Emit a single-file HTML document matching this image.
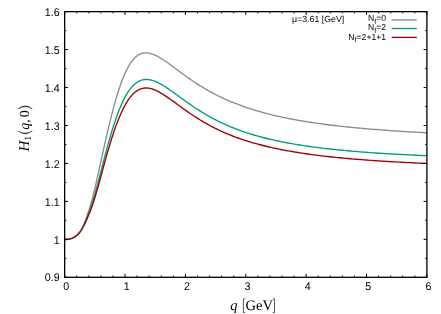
<!DOCTYPE html>
<html><head><meta charset="utf-8"><title>H1(q,0)</title>
<style>
html,body{margin:0;padding:0;background:#fff;}
svg{display:block;will-change:transform;}
text{font-family:"Liberation Sans",sans-serif;fill:#000;text-rendering:geometricPrecision;}
.tl text{font-size:11.2px;}
.lg text{font-size:8.6px;}
.ser text{font-family:"Liberation Serif",serif;}
</style></head>
<body>
<svg width="441" height="314" viewBox="0 0 441 314">
<rect x="0" y="0" width="441" height="314" fill="#ffffff"/>
<g fill="none" stroke-width="1.35" stroke-linejoin="round" stroke-linecap="butt" transform="translate(0,0.35)">
<path d="M64.50,239.19 L65.22,239.17 L65.97,239.14 L66.72,239.09 L67.47,239.01 L68.21,238.91 L68.96,238.78 L69.71,238.63 L70.46,238.44 L71.21,238.23 L71.95,237.97 L72.70,237.68 L73.45,237.35 L74.19,236.97 L74.94,236.54 L75.68,236.05 L76.42,235.49 L77.15,234.86 L77.89,234.15 L78.62,233.36 L79.34,232.48 L80.06,231.49 L80.78,230.40 L81.48,229.19 L82.18,227.86 L82.87,226.41 L83.57,224.82 L84.26,223.11 L84.97,221.25 L85.70,219.26 L86.46,217.14 L87.26,214.88 L88.09,212.49 L88.94,209.98 L89.79,207.35 L90.62,204.61 L91.43,201.77 L92.22,198.84 L92.99,195.81 L93.75,192.72 L94.50,189.55 L95.25,186.33 L96.00,183.05 L96.75,179.74 L97.50,176.39 L98.25,173.02 L99.00,169.62 L99.75,166.22 L100.50,162.81 L101.25,159.40 L102.00,155.99 L102.75,152.60 L103.50,149.22 L104.25,145.86 L105.00,142.53 L105.75,139.22 L106.50,135.95 L107.25,132.72 L108.00,129.52 L108.75,126.36 L109.50,123.25 L110.25,120.19 L111.00,117.19 L111.75,114.23 L112.50,111.34 L113.25,108.50 L114.00,105.72 L114.75,103.01 L115.50,100.36 L116.25,97.78 L117.00,95.27 L117.75,92.83 L118.50,90.46 L119.25,88.17 L120.00,85.95 L120.75,83.81 L121.50,81.74 L122.25,79.74 L123.00,77.83 L123.75,75.99 L124.50,74.23 L125.25,72.54 L126.00,70.93 L126.75,69.40 L127.50,67.94 L128.25,66.56 L129.00,65.26 L129.75,64.02 L130.50,62.86 L131.25,61.77 L132.00,60.75 L132.75,59.79 L133.50,58.91 L134.25,58.09 L135.00,57.33 L135.75,56.64 L136.50,56.01 L137.25,55.43 L138.00,54.92 L138.75,54.45 L139.50,54.05 L140.25,53.69 L141.00,53.39 L141.75,53.13 L142.50,52.92 L143.25,52.76 L144.00,52.64 L144.75,52.56 L145.50,52.52 L146.25,52.52 L147.00,52.55 L147.75,52.62 L148.50,52.72 L149.25,52.86 L150.00,53.02 L150.75,53.21 L151.50,53.43 L152.25,53.68 L153.00,53.95 L153.75,54.24 L154.50,54.56 L155.25,54.89 L156.00,55.25 L156.75,55.62 L157.50,56.01 L158.25,56.42 L159.00,56.84 L159.75,57.27 L160.50,57.72 L161.25,58.18 L162.00,58.65 L162.75,59.13 L163.50,59.62 L164.25,60.12 L165.00,60.62 L165.75,61.14 L166.50,61.66 L167.25,62.18 L168.00,62.71 L168.75,63.25 L169.50,63.79 L170.25,64.33 L171.00,64.88 L171.75,65.43 L172.50,65.98 L173.25,66.54 L174.00,67.09 L174.75,67.65 L175.50,68.20 L176.25,68.76 L177.00,69.32 L177.75,69.88 L178.50,70.43 L179.25,70.99 L180.00,71.54 L180.75,72.09 L181.50,72.64 L182.25,73.19 L183.00,73.74 L183.75,74.28 L184.50,74.83 L185.25,75.37 L186.00,75.90 L186.75,76.44 L187.50,76.97 L188.25,77.50 L189.00,78.02 L189.75,78.54 L190.50,79.06 L191.25,79.58 L192.00,80.09 L192.75,80.60 L193.50,81.10 L194.25,81.60 L195.00,82.10 L195.75,82.59 L196.50,83.08 L197.25,83.57 L198.00,84.05 L198.75,84.52 L199.50,85.00 L200.25,85.47 L201.00,85.93 L201.75,86.39 L202.50,86.85 L203.25,87.30 L204.00,87.75 L204.75,88.20 L205.50,88.64 L206.25,89.08 L207.00,89.51 L207.75,89.94 L208.50,90.36 L209.25,90.78 L210.00,91.20 L210.75,91.61 L211.50,92.02 L212.25,92.42 L213.00,92.83 L213.75,93.22 L214.50,93.62 L215.25,94.00 L216.00,94.39 L216.75,94.77 L217.50,95.15 L218.25,95.52 L219.00,95.89 L219.75,96.26 L220.00,96.38 L222.00,97.34 L224.00,98.27 L226.00,99.17 L228.00,100.06 L230.00,100.91 L232.00,101.75 L234.00,102.56 L236.00,103.35 L238.00,104.12 L240.00,104.87 L242.00,105.60 L244.00,106.31 L246.00,107.00 L248.00,107.67 L250.00,108.33 L252.00,108.96 L254.00,109.58 L256.00,110.19 L258.00,110.78 L260.00,111.35 L262.00,111.91 L264.00,112.45 L266.00,112.98 L268.00,113.50 L270.00,114.01 L272.00,114.50 L274.00,114.98 L276.00,115.44 L278.00,115.90 L280.00,116.34 L282.00,116.78 L284.00,117.20 L286.00,117.61 L288.00,118.02 L290.00,118.41 L292.00,118.79 L294.00,119.17 L296.00,119.54 L298.00,119.89 L300.00,120.24 L302.00,120.58 L304.00,120.92 L306.00,121.24 L308.00,121.56 L310.00,121.87 L312.00,122.18 L314.00,122.48 L316.00,122.77 L318.00,123.05 L320.00,123.33 L322.00,123.60 L324.00,123.87 L326.00,124.13 L328.00,124.39 L330.00,124.64 L332.00,124.88 L334.00,125.12 L336.00,125.36 L338.00,125.59 L340.00,125.81 L342.00,126.04 L344.00,126.25 L346.00,126.46 L348.00,126.67 L350.00,126.88 L352.00,127.08 L354.00,127.27 L356.00,127.46 L358.00,127.65 L360.00,127.84 L362.00,128.02 L364.00,128.19 L366.00,128.37 L368.00,128.54 L370.00,128.71 L372.00,128.87 L374.00,129.03 L376.00,129.19 L378.00,129.35 L380.00,129.50 L382.00,129.65 L384.00,129.80 L386.00,129.94 L388.00,130.09 L390.00,130.23 L392.00,130.36 L394.00,130.50 L396.00,130.63 L398.00,130.76 L400.00,130.89 L402.00,131.02 L404.00,131.14 L406.00,131.26 L408.00,131.38 L410.00,131.50 L412.00,131.61 L414.00,131.73 L416.00,131.84 L418.00,131.95 L420.00,132.06 L422.00,132.16 L424.00,132.27 L426.00,132.37 L427.00,132.42" stroke="#8c8c8c"/>
<path d="M64.50,239.19 L65.22,239.18 L65.97,239.15 L66.72,239.10 L67.47,239.03 L68.22,238.93 L68.96,238.82 L69.71,238.67 L70.46,238.49 L71.21,238.28 L71.96,238.02 L72.70,237.73 L73.45,237.39 L74.19,236.99 L74.94,236.54 L75.68,236.03 L76.42,235.45 L77.15,234.80 L77.89,234.08 L78.62,233.28 L79.34,232.39 L80.06,231.42 L80.78,230.35 L81.48,229.20 L82.18,227.95 L82.88,226.60 L83.58,225.15 L84.28,223.60 L84.98,221.96 L85.71,220.21 L86.45,218.37 L87.22,216.43 L88.03,214.40 L88.85,212.28 L89.68,210.07 L90.52,207.78 L91.35,205.41 L92.16,202.96 L92.95,200.45 L93.73,197.87 L94.49,195.23 L95.25,192.54 L96.00,189.80 L96.75,187.03 L97.50,184.21 L98.25,181.37 L99.00,178.50 L99.75,175.62 L100.50,172.73 L101.25,169.83 L102.00,166.93 L102.75,164.03 L103.50,161.15 L104.25,158.28 L105.00,155.43 L105.75,152.61 L106.50,149.81 L107.25,147.05 L108.00,144.32 L108.75,141.63 L109.50,138.98 L110.25,136.38 L111.00,133.82 L111.75,131.32 L112.50,128.86 L113.25,126.47 L114.00,124.12 L114.75,121.84 L115.50,119.61 L116.25,117.45 L117.00,115.35 L117.75,113.30 L118.50,111.32 L119.25,109.41 L120.00,107.55 L120.75,105.77 L121.50,104.04 L122.25,102.38 L123.00,100.78 L123.75,99.25 L124.50,97.78 L125.25,96.37 L126.00,95.03 L126.75,93.74 L127.50,92.52 L128.25,91.36 L129.00,90.26 L129.75,89.22 L130.50,88.24 L131.25,87.31 L132.00,86.44 L132.75,85.63 L133.50,84.87 L134.25,84.16 L135.00,83.51 L135.75,82.90 L136.50,82.35 L137.25,81.84 L138.00,81.38 L138.75,80.97 L139.50,80.60 L140.25,80.28 L141.00,80.00 L141.75,79.76 L142.50,79.56 L143.25,79.39 L144.00,79.27 L144.75,79.18 L145.50,79.13 L146.25,79.11 L147.00,79.12 L147.75,79.17 L148.50,79.24 L149.25,79.34 L150.00,79.47 L150.75,79.63 L151.50,79.81 L152.25,80.02 L153.00,80.25 L153.75,80.50 L154.50,80.78 L155.25,81.07 L156.00,81.38 L156.75,81.71 L157.50,82.06 L158.25,82.43 L159.00,82.81 L159.75,83.20 L160.50,83.61 L161.25,84.03 L162.00,84.47 L162.75,84.91 L163.50,85.37 L164.25,85.83 L165.00,86.31 L165.75,86.79 L166.50,87.28 L167.25,87.78 L168.00,88.28 L168.75,88.79 L169.50,89.31 L170.25,89.83 L171.00,90.35 L171.75,90.88 L172.50,91.42 L173.25,91.95 L174.00,92.49 L174.75,93.03 L175.50,93.57 L176.25,94.12 L177.00,94.66 L177.75,95.21 L178.50,95.75 L179.25,96.30 L180.00,96.84 L180.75,97.39 L181.50,97.93 L182.25,98.48 L183.00,99.02 L183.75,99.56 L184.50,100.10 L185.25,100.63 L186.00,101.17 L186.75,101.70 L187.50,102.23 L188.25,102.76 L189.00,103.28 L189.75,103.81 L190.50,104.32 L191.25,104.84 L192.00,105.35 L192.75,105.86 L193.50,106.37 L194.25,106.87 L195.00,107.37 L195.75,107.86 L196.50,108.36 L197.25,108.84 L198.00,109.33 L198.75,109.81 L199.50,110.28 L200.25,110.75 L201.00,111.22 L201.75,111.69 L202.50,112.15 L203.25,112.60 L204.00,113.05 L204.75,113.50 L205.50,113.94 L206.25,114.38 L207.00,114.82 L207.75,115.25 L208.50,115.67 L209.25,116.10 L210.00,116.52 L210.75,116.93 L211.50,117.34 L212.25,117.75 L213.00,118.15 L213.75,118.54 L214.50,118.94 L215.25,119.33 L216.00,119.71 L216.75,120.10 L217.50,120.47 L218.25,120.85 L219.00,121.22 L219.75,121.58 L220.00,121.70 L222.00,122.66 L224.00,123.58 L226.00,124.48 L228.00,125.36 L230.00,126.21 L232.00,127.03 L234.00,127.83 L236.00,128.61 L238.00,129.37 L240.00,130.10 L242.00,130.81 L244.00,131.50 L246.00,132.18 L248.00,132.83 L250.00,133.46 L252.00,134.08 L254.00,134.67 L256.00,135.26 L258.00,135.82 L260.00,136.37 L262.00,136.90 L264.00,137.42 L266.00,137.92 L268.00,138.41 L270.00,138.89 L272.00,139.35 L274.00,139.80 L276.00,140.24 L278.00,140.67 L280.00,141.09 L282.00,141.49 L284.00,141.88 L286.00,142.27 L288.00,142.64 L290.00,143.00 L292.00,143.36 L294.00,143.70 L296.00,144.04 L298.00,144.37 L300.00,144.69 L302.00,145.00 L304.00,145.30 L306.00,145.60 L308.00,145.89 L310.00,146.17 L312.00,146.45 L314.00,146.71 L316.00,146.98 L318.00,147.23 L320.00,147.48 L322.00,147.73 L324.00,147.97 L326.00,148.20 L328.00,148.43 L330.00,148.65 L332.00,148.87 L334.00,149.08 L336.00,149.29 L338.00,149.49 L340.00,149.69 L342.00,149.88 L344.00,150.07 L346.00,150.26 L348.00,150.44 L350.00,150.62 L352.00,150.79 L354.00,150.97 L356.00,151.13 L358.00,151.30 L360.00,151.46 L362.00,151.61 L364.00,151.77 L366.00,151.92 L368.00,152.07 L370.00,152.21 L372.00,152.35 L374.00,152.49 L376.00,152.63 L378.00,152.76 L380.00,152.89 L382.00,153.02 L384.00,153.15 L386.00,153.27 L388.00,153.39 L390.00,153.51 L392.00,153.63 L394.00,153.74 L396.00,153.86 L398.00,153.97 L400.00,154.08 L402.00,154.18 L404.00,154.29 L406.00,154.39 L408.00,154.49 L410.00,154.59 L412.00,154.69 L414.00,154.78 L416.00,154.88 L418.00,154.97 L420.00,155.06 L422.00,155.15 L424.00,155.24 L426.00,155.32 L427.00,155.37" stroke="#009e73"/>
<path d="M64.50,239.19 L65.22,239.17 L65.97,239.13 L66.72,239.07 L67.47,238.98 L68.21,238.86 L68.96,238.71 L69.71,238.53 L70.46,238.32 L71.21,238.08 L71.95,237.80 L72.70,237.48 L73.44,237.11 L74.19,236.71 L74.93,236.26 L75.67,235.76 L76.41,235.20 L77.15,234.59 L77.88,233.91 L78.61,233.17 L79.34,232.37 L80.06,231.49 L80.78,230.54 L81.49,229.51 L82.20,228.40 L82.91,227.20 L83.61,225.92 L84.31,224.54 L85.01,223.08 L85.72,221.53 L86.45,219.88 L87.20,218.15 L87.98,216.32 L88.78,214.40 L89.59,212.39 L90.42,210.30 L91.26,208.12 L92.08,205.87 L92.90,203.54 L93.69,201.14 L94.47,198.68 L95.24,196.15 L95.99,193.58 L96.75,190.96 L97.50,188.30 L98.25,185.61 L99.00,182.89 L99.75,180.15 L100.50,177.39 L101.25,174.63 L102.00,171.87 L102.75,169.11 L103.50,166.36 L104.25,163.62 L105.00,160.90 L105.75,158.21 L106.50,155.55 L107.25,152.91 L108.00,150.32 L108.75,147.76 L109.50,145.24 L110.25,142.76 L111.00,140.33 L111.75,137.95 L112.50,135.62 L113.25,133.34 L114.00,131.11 L114.75,128.94 L115.50,126.82 L116.25,124.76 L117.00,122.75 L117.75,120.80 L118.50,118.91 L119.25,117.07 L120.00,115.30 L120.75,113.58 L121.50,111.92 L122.25,110.32 L123.00,108.78 L123.75,107.30 L124.50,105.87 L125.25,104.51 L126.00,103.20 L126.75,101.96 L127.50,100.76 L128.25,99.63 L129.00,98.55 L129.75,97.53 L130.50,96.57 L131.25,95.66 L132.00,94.80 L132.75,94.00 L133.50,93.25 L134.25,92.55 L135.00,91.91 L135.75,91.31 L136.50,90.76 L137.25,90.26 L138.00,89.81 L138.75,89.41 L139.50,89.05 L140.25,88.73 L141.00,88.45 L141.75,88.22 L142.50,88.03 L143.25,87.88 L144.00,87.76 L144.75,87.69 L145.50,87.64 L146.25,87.64 L147.00,87.66 L147.75,87.72 L148.50,87.81 L149.25,87.92 L150.00,88.07 L150.75,88.24 L151.50,88.44 L152.25,88.67 L153.00,88.91 L153.75,89.18 L154.50,89.47 L155.25,89.78 L156.00,90.12 L156.75,90.46 L157.50,90.83 L158.25,91.21 L159.00,91.61 L159.75,92.02 L160.50,92.45 L161.25,92.89 L162.00,93.34 L162.75,93.80 L163.50,94.27 L164.25,94.75 L165.00,95.24 L165.75,95.73 L166.50,96.24 L167.25,96.75 L168.00,97.26 L168.75,97.79 L169.50,98.31 L170.25,98.84 L171.00,99.38 L171.75,99.92 L172.50,100.46 L173.25,101.00 L174.00,101.54 L174.75,102.09 L175.50,102.64 L176.25,103.19 L177.00,103.73 L177.75,104.28 L178.50,104.83 L179.25,105.38 L180.00,105.92 L180.75,106.47 L181.50,107.01 L182.25,107.55 L183.00,108.09 L183.75,108.63 L184.50,109.17 L185.25,109.70 L186.00,110.23 L186.75,110.76 L187.50,111.28 L188.25,111.80 L189.00,112.32 L189.75,112.84 L190.50,113.35 L191.25,113.86 L192.00,114.36 L192.75,114.86 L193.50,115.36 L194.25,115.85 L195.00,116.34 L195.75,116.83 L196.50,117.31 L197.25,117.78 L198.00,118.26 L198.75,118.73 L199.50,119.19 L200.25,119.65 L201.00,120.11 L201.75,120.56 L202.50,121.01 L203.25,121.45 L204.00,121.89 L204.75,122.32 L205.50,122.75 L206.25,123.18 L207.00,123.60 L207.75,124.02 L208.50,124.43 L209.25,124.84 L210.00,125.25 L210.75,125.65 L211.50,126.05 L212.25,126.44 L213.00,126.83 L213.75,127.21 L214.50,127.59 L215.25,127.97 L216.00,128.34 L216.75,128.71 L217.50,129.08 L218.25,129.44 L219.00,129.80 L219.75,130.15 L220.00,130.27 L222.00,131.18 L224.00,132.08 L226.00,132.95 L228.00,133.79 L230.00,134.61 L232.00,135.40 L234.00,136.17 L236.00,136.92 L238.00,137.65 L240.00,138.36 L242.00,139.04 L244.00,139.71 L246.00,140.36 L248.00,140.98 L250.00,141.60 L252.00,142.19 L254.00,142.77 L256.00,143.33 L258.00,143.87 L260.00,144.40 L262.00,144.92 L264.00,145.42 L266.00,145.91 L268.00,146.38 L270.00,146.85 L272.00,147.30 L274.00,147.73 L276.00,148.16 L278.00,148.57 L280.00,148.98 L282.00,149.37 L284.00,149.75 L286.00,150.13 L288.00,150.49 L290.00,150.85 L292.00,151.19 L294.00,151.53 L296.00,151.86 L298.00,152.18 L300.00,152.49 L302.00,152.80 L304.00,153.10 L306.00,153.39 L308.00,153.67 L310.00,153.95 L312.00,154.22 L314.00,154.49 L316.00,154.74 L318.00,155.00 L320.00,155.24 L322.00,155.48 L324.00,155.72 L326.00,155.95 L328.00,156.18 L330.00,156.40 L332.00,156.61 L334.00,156.82 L336.00,157.03 L338.00,157.23 L340.00,157.43 L342.00,157.62 L344.00,157.81 L346.00,158.00 L348.00,158.18 L350.00,158.36 L352.00,158.53 L354.00,158.70 L356.00,158.87 L358.00,159.03 L360.00,159.19 L362.00,159.35 L364.00,159.50 L366.00,159.65 L368.00,159.80 L370.00,159.95 L372.00,160.09 L374.00,160.23 L376.00,160.37 L378.00,160.50 L380.00,160.63 L382.00,160.76 L384.00,160.89 L386.00,161.01 L388.00,161.14 L390.00,161.26 L392.00,161.37 L394.00,161.49 L396.00,161.60 L398.00,161.71 L400.00,161.82 L402.00,161.93 L404.00,162.04 L406.00,162.14 L408.00,162.24 L410.00,162.35 L412.00,162.44 L414.00,162.54 L416.00,162.64 L418.00,162.73 L420.00,162.82 L422.00,162.91 L424.00,163.00 L426.00,163.09 L427.00,163.13" stroke="#a00000"/>
</g>
<g fill="none" stroke-width="1.35">
<path d="M391.7,19.9 H416.8" stroke="#8c8c8c"/>
<path d="M391.7,28.5 H416.8" stroke="#009e73"/>
<path d="M391.7,37.4 H416.8" stroke="#a00000"/>
</g>
<path d="M64.65,277.3 v-3.3 M64.65,11.65 v3.3 M76.73,277.3 v-1.7 M76.73,11.65 v1.7 M88.80,277.3 v-1.7 M88.80,11.65 v1.7 M100.88,277.3 v-1.7 M100.88,11.65 v1.7 M112.95,277.3 v-1.7 M112.95,11.65 v1.7 M125.03,277.3 v-3.3 M125.03,11.65 v3.3 M137.10,277.3 v-1.7 M137.10,11.65 v1.7 M149.18,277.3 v-1.7 M149.18,11.65 v1.7 M161.25,277.3 v-1.7 M161.25,11.65 v1.7 M173.32,277.3 v-1.7 M173.32,11.65 v1.7 M185.40,277.3 v-3.3 M185.40,11.65 v3.3 M197.48,277.3 v-1.7 M197.48,11.65 v1.7 M209.55,277.3 v-1.7 M209.55,11.65 v1.7 M221.62,277.3 v-1.7 M221.62,11.65 v1.7 M233.70,277.3 v-1.7 M233.70,11.65 v1.7 M245.78,277.3 v-3.3 M245.78,11.65 v3.3 M257.85,277.3 v-1.7 M257.85,11.65 v1.7 M269.93,277.3 v-1.7 M269.93,11.65 v1.7 M282.00,277.3 v-1.7 M282.00,11.65 v1.7 M294.08,277.3 v-1.7 M294.08,11.65 v1.7 M306.15,277.3 v-3.3 M306.15,11.65 v3.3 M318.23,277.3 v-1.7 M318.23,11.65 v1.7 M330.30,277.3 v-1.7 M330.30,11.65 v1.7 M342.38,277.3 v-1.7 M342.38,11.65 v1.7 M354.45,277.3 v-1.7 M354.45,11.65 v1.7 M366.52,277.3 v-3.3 M366.52,11.65 v3.3 M378.60,277.3 v-1.7 M378.60,11.65 v1.7 M390.68,277.3 v-1.7 M390.68,11.65 v1.7 M402.75,277.3 v-1.7 M402.75,11.65 v1.7 M414.83,277.3 v-1.7 M414.83,11.65 v1.7 M426.90,277.3 v-3.3 M426.90,11.65 v3.3 M64.65,277.30 h3.3 M426.9,277.30 h-3.3 M64.65,258.32 h1.7 M426.9,258.32 h-1.7 M64.65,239.35 h3.3 M426.9,239.35 h-3.3 M64.65,220.38 h1.7 M426.9,220.38 h-1.7 M64.65,201.40 h3.3 M426.9,201.40 h-3.3 M64.65,182.43 h1.7 M426.9,182.43 h-1.7 M64.65,163.45 h3.3 M426.9,163.45 h-3.3 M64.65,144.47 h1.7 M426.9,144.47 h-1.7 M64.65,125.50 h3.3 M426.9,125.50 h-3.3 M64.65,106.53 h1.7 M426.9,106.53 h-1.7 M64.65,87.55 h3.3 M426.9,87.55 h-3.3 M64.65,68.57 h1.7 M426.9,68.57 h-1.7 M64.65,49.60 h3.3 M426.9,49.60 h-3.3 M64.65,30.62 h1.7 M426.9,30.62 h-1.7 M64.65,11.65 h3.3 M426.9,11.65 h-3.3" stroke="#000" stroke-width="1.0" fill="none"/>
<rect x="64.65" y="11.65" width="362.25" height="265.65" fill="none" stroke="#000" stroke-width="1.3"/>
<g class="tl"><text transform="translate(66.25,290.1) scale(0.955,1)" text-anchor="middle">0</text><text transform="translate(126.62,290.1) scale(0.955,1)" text-anchor="middle">1</text><text transform="translate(187.00,290.1) scale(0.955,1)" text-anchor="middle">2</text><text transform="translate(247.38,290.1) scale(0.955,1)" text-anchor="middle">3</text><text transform="translate(307.75,290.1) scale(0.955,1)" text-anchor="middle">4</text><text transform="translate(368.12,290.1) scale(0.955,1)" text-anchor="middle">5</text><text transform="translate(428.50,290.1) scale(0.955,1)" text-anchor="middle">6</text><text transform="translate(59.6,281.45) scale(0.955,1)" text-anchor="end">0.9</text><text transform="translate(59.6,243.50) scale(0.955,1)" text-anchor="end">1</text><text transform="translate(59.6,205.55) scale(0.955,1)" text-anchor="end">1.1</text><text transform="translate(59.6,167.60) scale(0.955,1)" text-anchor="end">1.2</text><text transform="translate(59.6,129.65) scale(0.955,1)" text-anchor="end">1.3</text><text transform="translate(59.6,91.70) scale(0.955,1)" text-anchor="end">1.4</text><text transform="translate(59.6,53.75) scale(0.955,1)" text-anchor="end">1.5</text><text transform="translate(59.6,15.80) scale(0.955,1)" text-anchor="end">1.6</text></g>
<g class="lg">
<text x="292" y="21.9" style="font-size:8.8px">μ=3.61 [GeV]</text>
<text x="386" y="21.4" text-anchor="end">N<tspan font-size="7.3px" dy="2.6">f</tspan><tspan dy="-2.6">=0</tspan></text>
<text x="386" y="30.3" text-anchor="end">N<tspan font-size="7.3px" dy="2.6">f</tspan><tspan dy="-2.6">=2</tspan></text>
<text x="386" y="39.75" text-anchor="end">N<tspan font-size="7.3px" dy="2.6">f</tspan><tspan dy="-2.6">=2+1+1</tspan></text>
</g>
<g class="ser" fill="#303030">
<text font-size="14.5px" font-style="italic" x="230.3" y="309.5">q</text>
<text font-size="14.5px" x="245.6" y="309.5">GeV</text>
<path d="M245.2,298.8 H243.4 V312.6 H245.2 M272.7,298.8 H274.5 V312.6 H272.7" fill="none" stroke="#303030" stroke-width="0.8"/>
<g transform="translate(29.2,151.7) rotate(-90)">
<text font-size="15px" font-style="italic" x="0.2" y="0">H</text>
<text font-size="10px" x="11.0" y="1.6">1</text>
<text font-size="14px" font-style="italic" x="21.9" y="0">q</text>
<text font-size="14px" x="28.9" y="0">,</text>
<text font-size="14px" x="34.5" y="0">0</text>
<path d="M20.8,-11.1 Q14.7,-4 20.8,3.1 Q16.4,-4 20.8,-11.1 Z M42.8,-11.1 Q48.9,-4 42.8,3.1 Q47.2,-4 42.8,-11.1 Z" stroke="#303030" stroke-width="0.5" stroke-linejoin="round"/>
</g>
</g>
</svg>
</body></html>
